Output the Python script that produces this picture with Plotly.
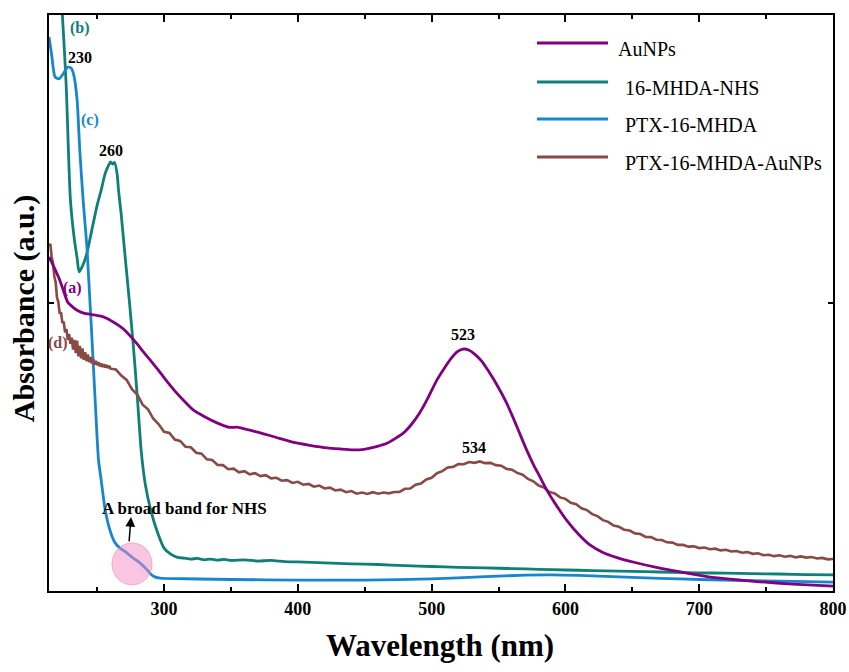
import plotly.graph_objects as go

# ---- UV-Vis spectra (wavelength in nm, absorbance in a.u.) ----
aunps_nm = [214, 218, 222, 225, 228, 232, 236, 240, 246, 252, 257, 262, 266, 270, 275, 280,
            285, 290, 295, 301, 308, 315, 322, 330, 340, 349, 354.5, 360, 372, 384, 396, 409,
            422, 432, 441, 448, 454, 460, 467, 473, 479, 485, 491, 497, 504, 509, 514, 519,
            523.4, 528, 533, 538, 542, 548, 556, 562, 566, 571, 576, 581, 586, 592, 601, 610,
            618, 628, 638, 652, 668, 686, 706, 725, 745, 770, 800]
aunps_abs = [1.160, 1.122, 1.080, 1.040, 1.003, 0.985, 0.972, 0.965, 0.960, 0.955, 0.947,
             0.934, 0.922, 0.908, 0.884, 0.857, 0.828, 0.800, 0.771, 0.735, 0.695, 0.660,
             0.628, 0.606, 0.583, 0.568, 0.569, 0.563, 0.549, 0.533, 0.517, 0.506, 0.497,
             0.493, 0.490, 0.491, 0.496, 0.503, 0.514, 0.530, 0.549, 0.579, 0.618, 0.668,
             0.733, 0.770, 0.804, 0.830, 0.840, 0.836, 0.819, 0.795, 0.767, 0.722, 0.653,
             0.590, 0.545, 0.490, 0.440, 0.396, 0.351, 0.306, 0.245, 0.196, 0.161, 0.134,
             0.117, 0.099, 0.082, 0.066, 0.050, 0.040, 0.032, 0.024, 0.017]

nhs_nm = [214, 220, 222, 224, 225.5, 227, 228.5, 230, 233, 235, 236.5, 239, 242, 246, 250,
          253, 256, 258.5, 260, 261.5, 263, 265, 266, 268, 271, 274, 277, 280, 283, 286, 290,
          295, 300, 305, 310, 315, 320, 325, 330, 335, 340, 345, 350, 360, 370, 380, 390, 400,
          420, 440, 460, 480, 500, 520, 540, 560, 580, 600, 620, 640, 660, 680, 700, 720, 740,
          760, 780, 800]
nhs_abs = [2.60, 2.35, 2.20, 2.00, 1.878, 1.740, 1.531, 1.358, 1.219, 1.156, 1.108, 1.128,
           1.167, 1.253, 1.340, 1.392, 1.450, 1.478, 1.490, 1.482, 1.488, 1.445, 1.390, 1.306,
           1.156, 1.010, 0.854, 0.674, 0.482, 0.370, 0.282, 0.205, 0.149, 0.128, 0.117, 0.114,
           0.111, 0.113, 0.108, 0.111, 0.107, 0.110, 0.106, 0.108, 0.104, 0.106, 0.102, 0.101,
           0.098, 0.094, 0.092, 0.088, 0.085, 0.082, 0.080, 0.078, 0.075, 0.073, 0.071, 0.069,
           0.067, 0.065, 0.063, 0.062, 0.060, 0.059, 0.057, 0.056]

ptx_nm = [214, 216, 218.5, 221.5, 224.5, 228, 230.5, 232.5, 235, 237, 239.5, 242.5, 248.5,
          251, 253, 256, 259.5, 263, 267, 271.5, 276, 281, 286, 290, 293, 297, 300, 350, 400,
          450, 500, 540, 570, 590, 610, 640, 670, 700, 750, 800]
ptx_abs = [1.924, 1.861, 1.785, 1.778, 1.795, 1.819, 1.816, 1.792, 1.705, 1.531, 1.358, 1.184,
           0.663, 0.455, 0.385, 0.281, 0.212, 0.170, 0.149, 0.135, 0.118, 0.101, 0.080, 0.059,
           0.049, 0.045, 0.044, 0.040, 0.038, 0.038, 0.042, 0.050, 0.055, 0.056, 0.054, 0.049,
           0.044, 0.040, 0.035, 0.031]

conj_nm = list(range(214, 261)) + list(range(264, 801, 4))
conj_abs = [1.198, 1.205, 1.160, 1.138, 1.092, 1.071, 1.018, 1.003, 0.962, 0.968, 0.931,
            0.935, 0.898, 0.910, 0.872, 0.893, 0.858, 0.880, 0.838, 0.872, 0.826, 0.869,
            0.815, 0.851, 0.808, 0.842, 0.803, 0.829, 0.798, 0.821, 0.795, 0.812, 0.790,
            0.805, 0.786, 0.799, 0.784, 0.795, 0.780, 0.790, 0.778, 0.787, 0.776, 0.785,
            0.774, 0.782, 0.772,
            0.769, 0.748, 0.733, 0.701, 0.682, 0.647, 0.631, 0.598, 0.579, 0.553, 0.549,
            0.526, 0.521, 0.501, 0.499, 0.480, 0.477, 0.457, 0.455, 0.438, 0.437, 0.423,
            0.425, 0.412, 0.416, 0.405, 0.409, 0.399, 0.402, 0.391, 0.393, 0.383, 0.385,
            0.375, 0.379, 0.369, 0.372, 0.362, 0.366, 0.356, 0.359, 0.349, 0.352, 0.343,
            0.347, 0.338, 0.342, 0.337, 0.343, 0.338, 0.342, 0.339, 0.344, 0.344, 0.355,
            0.356, 0.369, 0.373, 0.387, 0.393, 0.409, 0.416, 0.429, 0.431, 0.441, 0.440,
            0.448, 0.445, 0.450, 0.444, 0.445, 0.437, 0.435, 0.424, 0.421, 0.410, 0.404,
            0.389, 0.381, 0.366, 0.359, 0.344, 0.339, 0.325, 0.320, 0.306, 0.301, 0.287,
            0.281, 0.267, 0.260, 0.246, 0.240, 0.227, 0.223, 0.213, 0.210, 0.200, 0.198,
            0.188, 0.187, 0.178, 0.177, 0.169, 0.168, 0.160, 0.160, 0.154, 0.155, 0.149,
            0.151, 0.145, 0.147, 0.141, 0.143, 0.137, 0.139, 0.133, 0.135, 0.129, 0.131,
            0.124, 0.126, 0.121, 0.124, 0.119, 0.122, 0.117, 0.120, 0.116, 0.118, 0.113,
            0.115, 0.110, 0.111]

series_names = ["AuNPs", "16-MHDA-NHS", "PTX-16-MHDA", "PTX-16-MHDA-AuNPs"]
series_x = [aunps_nm, nhs_nm, ptx_nm, conj_nm]
series_y = [aunps_abs, nhs_abs, ptx_abs, conj_abs]
colors = ["#800080", "#0f8078", "#1787cc", "#874a45"]

x_ticks = [300, 400, 500, 600, 700, 800]

# curve letters and peak positions
curve_tags = ["(a)", "(b)", "(c)", "(d)"]
tag_x = [231.2, 237.2, 244.6, 220.9]
tag_y = [1.052, 1.955, 1.635, 0.861]
peak_labels = ["230", "260", "523", "534"]
peak_x = [237, 260.3, 523.4, 531.6]
peak_y = [1.854, 1.531, 0.889, 0.500]

SERIF = "Times New Roman"

fig = go.Figure()
draw_order = [1, 2, 3, 0]
for i in draw_order:
    fig.add_trace(go.Scatter(
        x=series_x[i], y=series_y[i], mode="lines", name=series_names[i],
        line=dict(color=colors[i], width=2.8, shape="spline", smoothing=0.6) if i != 3
        else dict(color=colors[i], width=2.6),
        showlegend=False,
    ))

annotations = []
for t, x, y, c in zip(curve_tags, tag_x, tag_y, colors):
    annotations.append(dict(x=x, y=y, xref="x", yref="y", text=f"<b>{t}</b>",
                            showarrow=False, font=dict(family=SERIF, size=16, color=c)))
for t, x, y in zip(peak_labels, peak_x, peak_y):
    annotations.append(dict(x=x, y=y, xref="x", yref="y", text=f"<b>{t}</b>",
                            showarrow=False, font=dict(family=SERIF, size=16, color="black")))

# NHS band note with arrow
annotations.append(dict(x=315.6, y=0.288, xref="x", yref="y",
                        text="<b>A broad band for NHS</b>", showarrow=False,
                        font=dict(family=SERIF, size=17, color="black")))
annotations.append(dict(x=275.3, y=0.257, xref="x", yref="y", ax=273.8, ay=0.167,
                        axref="x", ayref="y", text="", showarrow=True, arrowhead=2,
                        arrowsize=1.3, arrowwidth=1.5, arrowcolor="black"))

# axis titles
annotations.append(dict(x=0.4987, y=-0.095, xref="paper", yref="paper",
                        xanchor="center", yanchor="middle",
                        text="<b>Wavelength (nm)</b>", showarrow=False,
                        font=dict(family=SERIF, size=31, color="black")))
annotations.append(dict(x=-0.0325, y=0.49, xref="paper", yref="paper",
                        xanchor="center", yanchor="middle",
                        text="<b>Absorbance (a.u.)</b>", showarrow=False, textangle=-90,
                        font=dict(family=SERIF, size=30, color="black")))

# legend block
legend_line_y = [0.9514, 0.8837, 0.8194, 0.7535]
legend_text_y = [0.941, 0.8733, 0.809, 0.7431]
legend_text_x = [0.7232, 0.7321, 0.7321, 0.7321]
shapes = []
for name, c, ly, ty, tx in zip(series_names, colors, legend_line_y, legend_text_y, legend_text_x):
    shapes.append(dict(type="line", xref="paper", yref="paper", x0=0.6224, x1=0.713,
                       y0=ly, y1=ly, line=dict(color=c, width=3)))
    annotations.append(dict(x=tx, y=ty, xref="paper", yref="paper", text=name,
                            xanchor="left", yanchor="middle", showarrow=False,
                            font=dict(family=SERIF, size=20, color="black")))

# highlight circle over the NHS shoulder
shapes.append(dict(type="circle", xref="x", yref="y", x0=261.1, x1=291.0, y0=0.021, y1=0.167,
                   fillcolor="rgba(245,140,200,0.5)", line=dict(color="rgba(240,130,190,0.6)", width=1),
                   layer="above"))

fig.update_layout(
    width=849, height=672, autosize=False,
    margin=dict(l=49, r=16, t=15, b=81),
    paper_bgcolor="white", plot_bgcolor="white",
    annotations=annotations, shapes=shapes,
    font=dict(family=SERIF, color="black"),
)
fig.update_xaxes(
    range=[214, 800], tickvals=x_ticks, ticks="inside", ticklen=7, tickwidth=2,
    tickcolor="black", showline=True, linecolor="black", linewidth=2, mirror="ticks",
    showgrid=False, zeroline=False, ticklabeloverflow="allow", automargin=False,
    tickfont=dict(family=SERIF, size=18, color="black", weight="bold"),
    minor=dict(dtick=50, tick0=250, ticks="inside", ticklen=4, tickwidth=1.5, tickcolor="black"),
)
fig.update_yaxes(
    range=[0, 2], tickvals=[1], showticklabels=False, ticks="inside", ticklen=5, tickwidth=2,
    tickcolor="black", showline=True, linecolor="black", linewidth=2, mirror="ticks",
    showgrid=False, zeroline=False, automargin=False,
)

fig.write_html("out.html", config={"responsive": False})
